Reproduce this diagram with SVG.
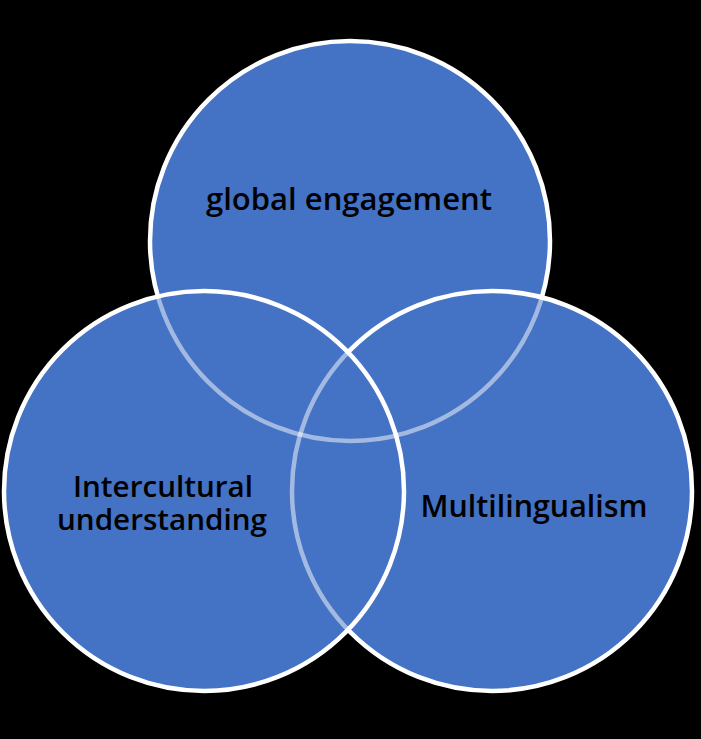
<svg xmlns="http://www.w3.org/2000/svg" width="701" height="739" viewBox="0 0 701 739">
<style>
.fill{fill:#4472C4;stroke:none}
.solid{fill:none;stroke:#FFFFFF;stroke-width:4.5}
.semi{fill:none;stroke:#FFFFFF;stroke-opacity:0.5;stroke-width:4.5}
.lbl{font-family:"Open Sans","Noto Sans","Liberation Sans",sans-serif;font-size:31px;font-weight:600;fill:#000000;text-anchor:middle}
.two{font-size:29px}
</style>
<defs>
<circle id="cT" cx="350" cy="241" r="200"/>
<circle id="cR" cx="492" cy="491" r="200"/>
<circle id="cL" cx="204" cy="491" r="200"/>
<clipPath id="clipR"><circle cx="492" cy="491" r="200"/></clipPath>
<clipPath id="clipL"><circle cx="204" cy="491" r="200"/></clipPath>
</defs>
<rect width="701" height="739" fill="#000000"/>
<g id="node-top">
<use href="#cT" class="fill"/>
<use href="#cT" class="solid"/>
</g>
<g id="node-right">
<use href="#cR" class="fill"/>
</g>
<g id="connectors">
<g clip-path="url(#clipR)"><use href="#cT" class="semi"/></g>
<use href="#cR" class="solid"/>
</g>
<g id="node-left">
<use href="#cL" class="fill"/>
<g clip-path="url(#clipL)"><use href="#cT" class="semi"/><use href="#cR" class="semi"/></g>
<use href="#cL" class="solid"/>
</g>
<g id="labels">
<text class="lbl" x="349" y="210" textLength="286" lengthAdjust="spacingAndGlyphs">global engagement</text>
<text class="lbl two"><tspan x="163" y="497" textLength="180" lengthAdjust="spacingAndGlyphs">Intercultural</tspan><tspan x="162" y="530" textLength="210" lengthAdjust="spacingAndGlyphs">understanding</tspan></text>
<text class="lbl" x="534" y="517" textLength="227" lengthAdjust="spacingAndGlyphs">Multilingualism</text>
</g>
</svg>
